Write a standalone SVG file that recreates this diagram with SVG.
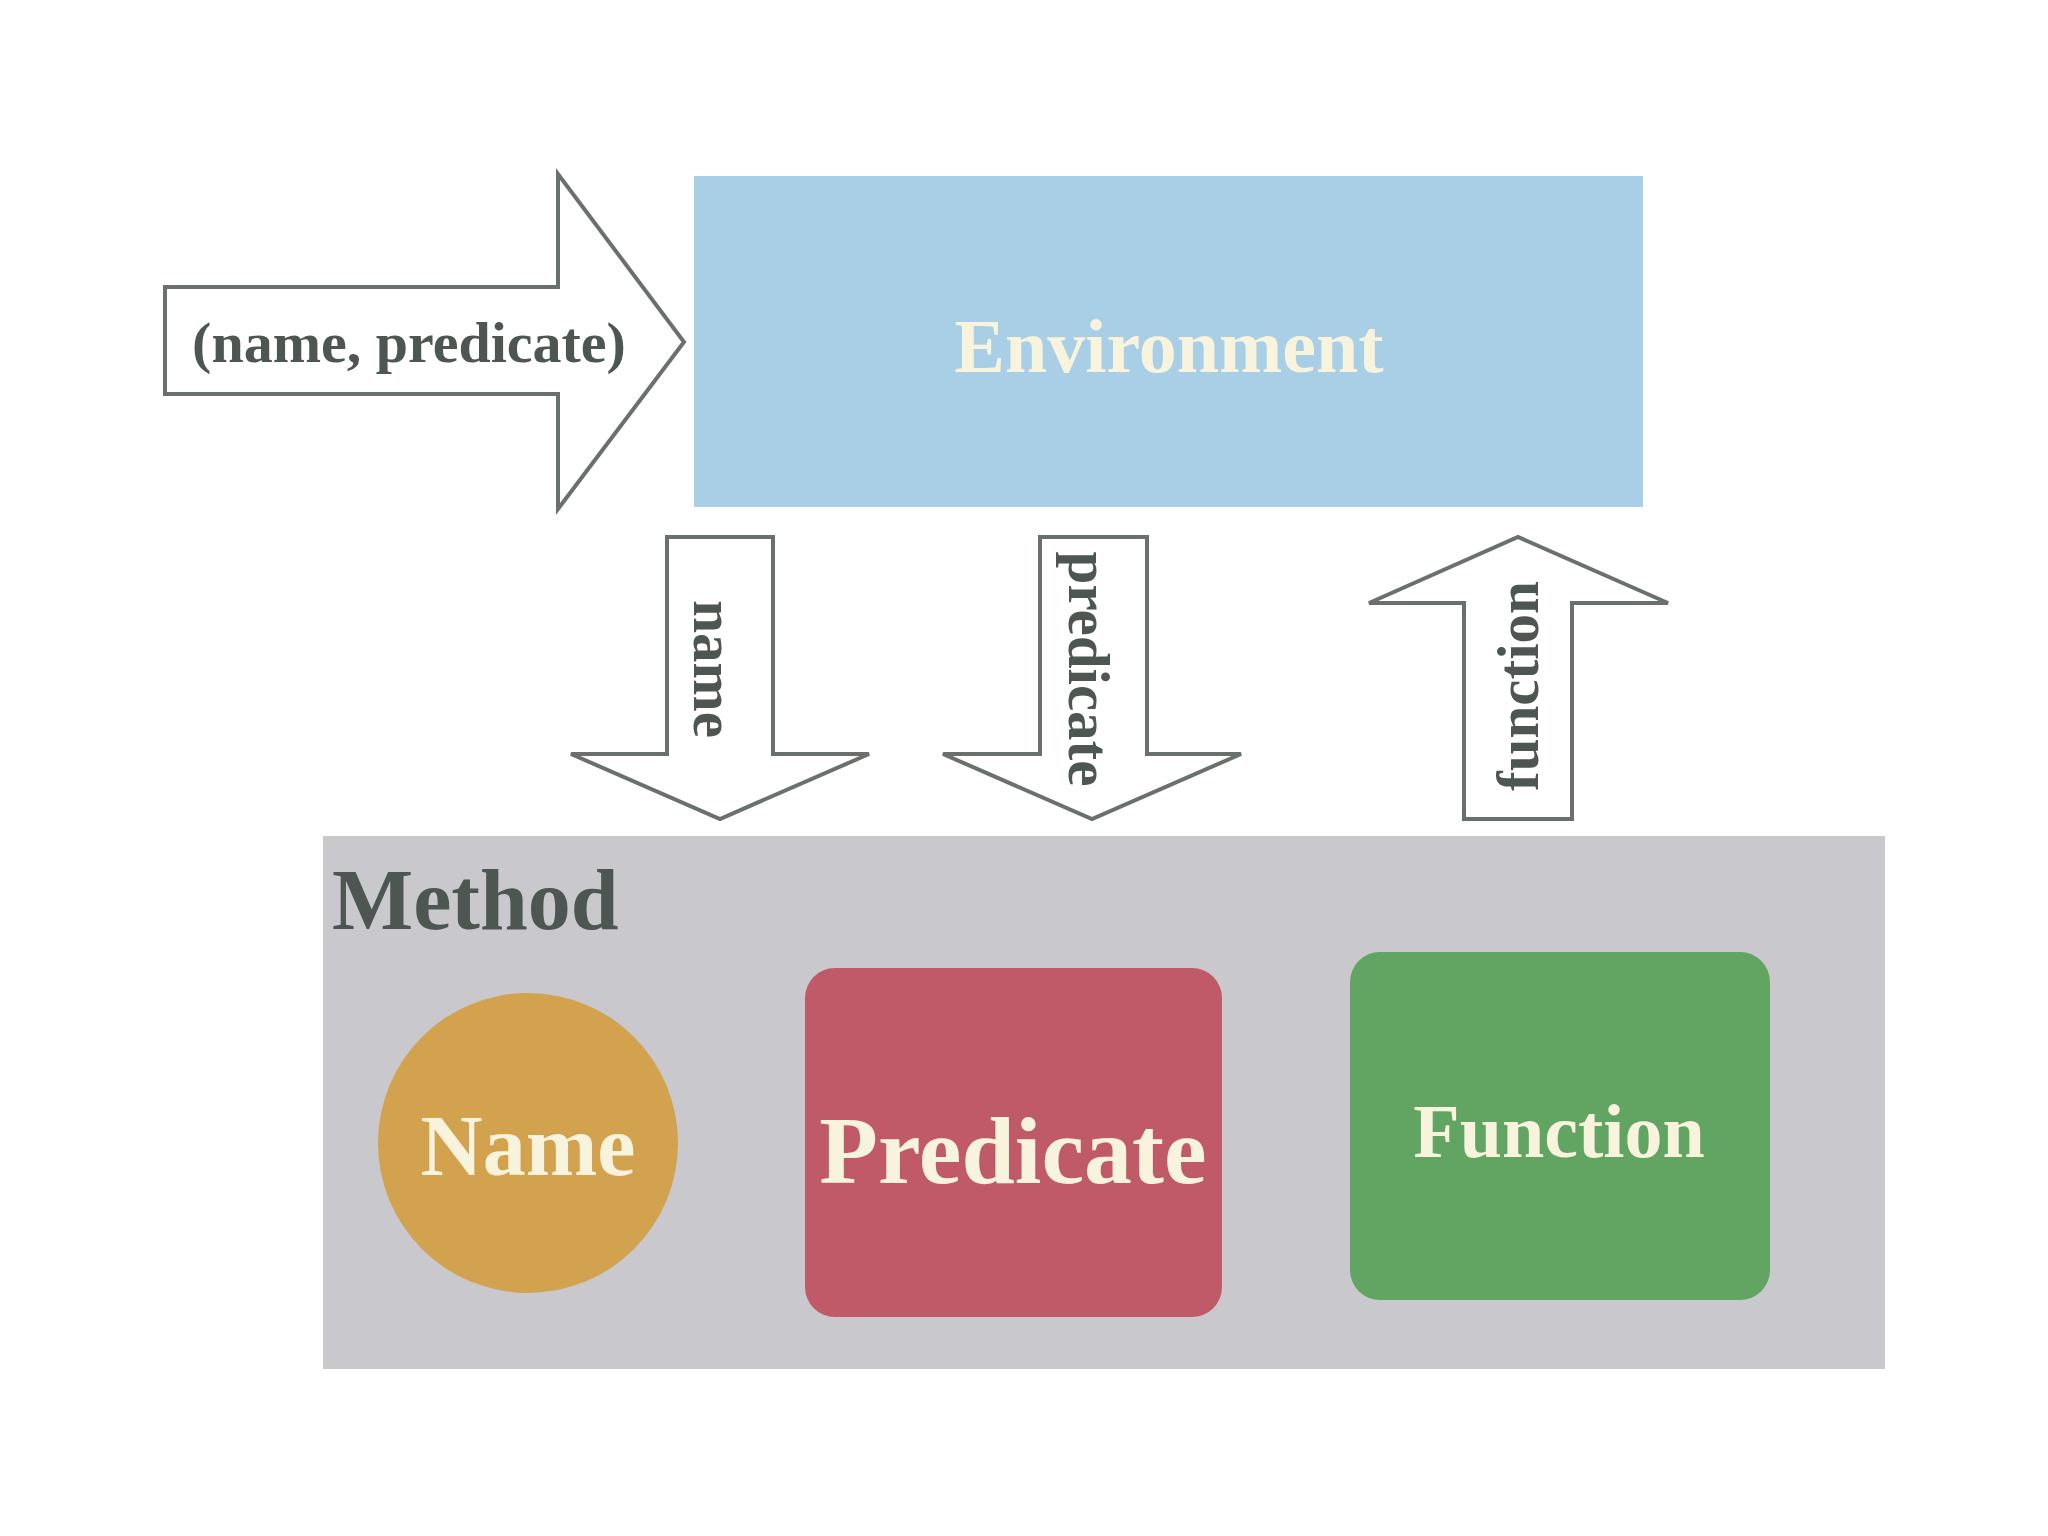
<svg xmlns="http://www.w3.org/2000/svg" width="2048" height="1536" viewBox="0 0 2048 1536">
<style>
.arr{fill:#fff;stroke:#6a706c;stroke-width:4;stroke-linejoin:miter}
.lbl{font-family:"Liberation Serif",serif;font-weight:bold;fill:#4e5652}
.wt{font-family:"Liberation Serif",serif;font-weight:bold;fill:#f8f3dc;text-anchor:middle}
</style>
<rect width="2048" height="1536" fill="#fff"/>
<g id="method">
<rect x="323" y="836" width="1562" height="533" fill="#c9c9cd"/>
<text class="lbl" x="332" y="929" font-size="86">Method</text>
</g>
<g id="environment">
<rect x="694" y="176" width="949" height="331" fill="#a8cfe6"/>
<text class="wt" x="1169" y="372" font-size="76" fill="#f4f6ee">Environment</text>
</g>
<g id="name">
<circle cx="528" cy="1143" r="150" fill="#d2a24e"/>
<text class="wt" x="528" y="1175" font-size="86">Name</text>
</g>
<g id="predicate">
<rect x="805" y="968" width="417" height="349" rx="30" fill="#c05a69"/>
<text class="wt" x="1013" y="1183" font-size="96">Predicate</text>
</g>
<g id="function">
<rect x="1350" y="952" width="420" height="348" rx="30" fill="#62a563"/>
<text class="wt" x="1559" y="1157" font-size="76">Function</text>
</g>
<g id="connectors">
<polygon class="arr" points="165,287 558,287 558,174 684,342 558,509 558,394 165,394"/>
<text class="lbl" x="409" y="362" font-size="58" text-anchor="middle">(name, predicate)</text>
<polygon class="arr" points="667,537 773,537 773,754 869,754 720,819 571,754 667,754"/>
<text class="lbl" font-size="59" text-anchor="middle" transform="translate(694,669) rotate(90)">name</text>
<polygon class="arr" points="1040,537 1147,537 1147,754 1241,754 1092,819 943,754 1040,754"/>
<text class="lbl" font-size="59" text-anchor="middle" transform="translate(1069,669) rotate(90)">predicate</text>
<polygon class="arr" points="1464,819 1572,819 1572,603 1668,603 1518,537 1369,603 1464,603"/>
<text class="lbl" font-size="59" text-anchor="middle" transform="translate(1538,686) rotate(-90)">function</text>
</g>
</svg>
